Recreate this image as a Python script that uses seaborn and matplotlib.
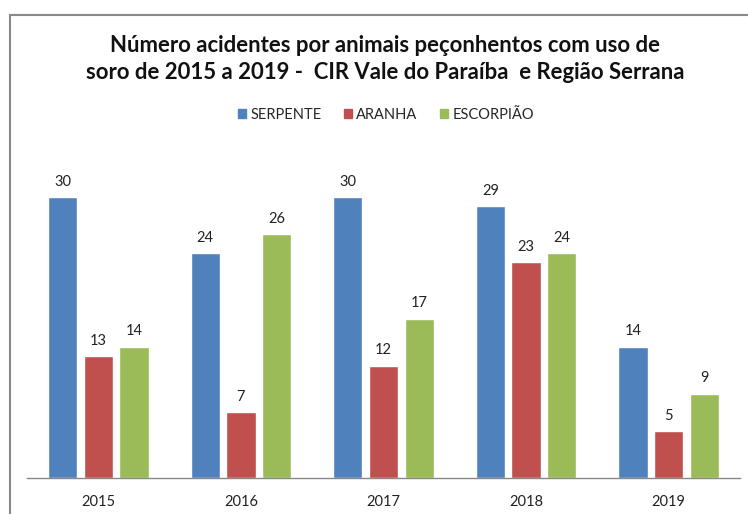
import pandas as pd
import seaborn as sns
import matplotlib.pyplot as plt
from matplotlib.patches import Rectangle

years = ['2015', '2016', '2017', '2018', '2019']
serpente = [30, 24, 30, 29, 14]
aranha = [13, 7, 12, 23, 5]
escorpiao = [14, 26, 17, 24, 9]
series_names = ['SERPENTE', 'ARANHA', 'ESCORPIÃO']
colors = ['#4F81BD', '#C0504D', '#9BBB59']

df = pd.DataFrame({'Ano': years, 'SERPENTE': serpente,
                   'ARANHA': aranha, 'ESCORPIÃO': escorpiao})
df = df.melt(id_vars='Ano', var_name='Tipo', value_name='Valor')

sns.set_style('white')
plt.rcParams['font.family'] = ['Lato', 'DejaVu Sans']

fig = plt.figure(figsize=(7.48, 5.14), dpi=100)
ax = fig.add_axes([27 / 748, 1 - 478 / 514, 713 / 748, 328 / 514])

sns.barplot(data=df, x='Ano', y='Valor', hue='Tipo', hue_order=series_names,
            palette=colors, width=0.75, gap=0.18, saturation=1, ax=ax,
            legend=False)

for cont in ax.containers:
    ax.bar_label(cont, padding=6, fontsize=10.5, color='#222222')

ax.set_ylim(0, 35)
ax.set_xlim(-0.5, 4.5)
ax.set_xlabel('')
ax.set_ylabel('')
ax.set_yticks([])
for side in ['top', 'right', 'left']:
    ax.spines[side].set_visible(False)
ax.spines['bottom'].set_color('#888888')
ax.spines['bottom'].set_linewidth(1)
ax.tick_params(axis='x', length=0, pad=12, labelsize=10.5, labelcolor='#222222')

# legend
handles = [Rectangle((0, 0), 1, 1, color=c) for c in colors]
fig.legend(handles, series_names, loc='center', bbox_to_anchor=(386 / 748, 1 - 115 / 514),
           ncol=3, frameon=False, fontsize=10.5, handlelength=0.55, handleheight=0.55,
           columnspacing=1.55, handletextpad=0.3)

fig.text(385 / 748, 1 - 59 / 514,
         'Número acidentes por animais peçonhentos com uso de\n'
         'soro de 2015 a 2019 -  CIR Vale do Paraíba  e Região Serrana',
         ha='center', va='center', fontsize=15.9, fontweight='bold',
         linespacing=1.3, color='#111111')

# chart border
fig.patches.append(Rectangle((9.5 / 748, -0.1), 1.2, 1 - 15 / 514 + 0.1,
                             transform=fig.transFigure, fill=False,
                             edgecolor='#898989', linewidth=1.5))

fig.savefig('out.png', dpi=100)
